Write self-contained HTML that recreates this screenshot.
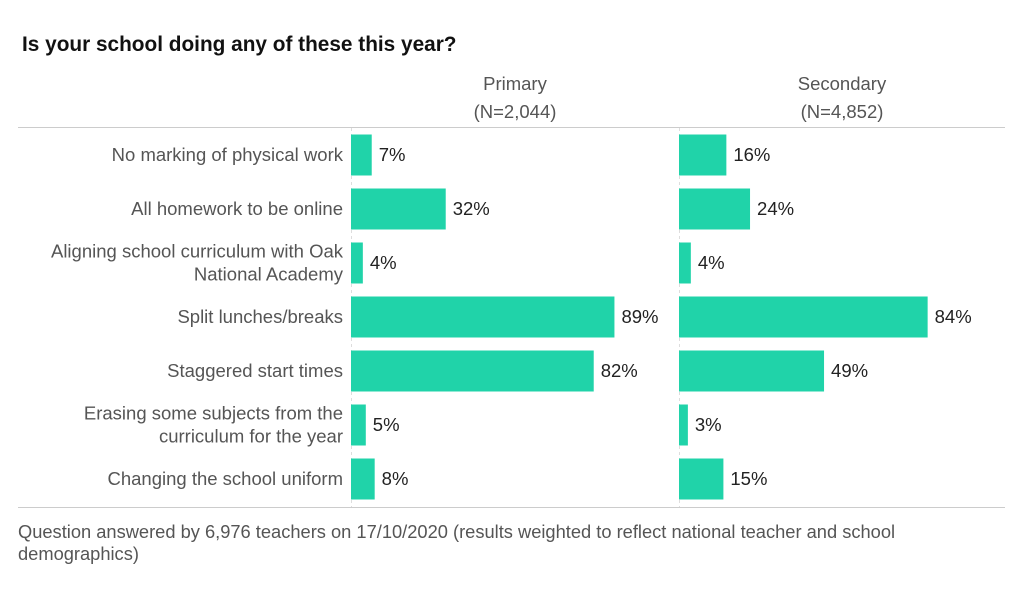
<!DOCTYPE html>
<html><head><meta charset="utf-8"><style>
body{margin:0;background:#fff;font-family:"Liberation Sans",sans-serif;}
svg text{font-family:"Liberation Sans",sans-serif;}
</style></head><body>
<svg id="chart" width="1024" height="585" xmlns="http://www.w3.org/2000/svg">
<text x="22" y="51" font-size="20.8" font-weight="bold" fill="#111">Is your school doing any of these this year?</text>
<text x="515" y="90" font-size="18.5" fill="#555" text-anchor="middle">Primary</text>
<text x="515" y="118" font-size="18.5" fill="#555" text-anchor="middle">(N=2,044)</text>
<text x="842" y="90" font-size="18.5" fill="#555" text-anchor="middle">Secondary</text>
<text x="842" y="118" font-size="18.5" fill="#555" text-anchor="middle">(N=4,852)</text>
<line x1="18" y1="127.5" x2="1005" y2="127.5" stroke="#ccc"/>
<line x1="18" y1="507.5" x2="1005" y2="507.5" stroke="#ccc"/>
<line x1="351.5" y1="128" x2="351.5" y2="507" stroke="#ddd" stroke-dasharray="3,3"/>
<line x1="679.5" y1="128" x2="679.5" y2="507" stroke="#ddd" stroke-dasharray="3,3"/>
<g id="bars"></g>
<text x="18" y="538" font-size="18.3" fill="#555">Question answered by 6,976 teachers on 17/10/2020 (results weighted to reflect national teacher and school</text>
<text x="18" y="560" font-size="18.3" fill="#555">demographics)</text>
</svg>
<script>
const categories=[["No marking of physical work"],["All homework to be online"],["Aligning school curriculum with Oak","National Academy"],["Split lunches/breaks"],["Staggered start times"],["Erasing some subjects from the","curriculum for the year"],["Changing the school uniform"]];
const primary=[7,32,4,89,82,5,8];
const secondary=[16,24,4,84,49,3,15];
const ns="http://www.w3.org/2000/svg";
const g=document.getElementById('bars');
const y=i=>155+i*54;
const xs=v=>v*2.96;
function mk(t,a){const e=document.createElementNS(ns,t);for(const k in a)e.setAttribute(k,a[k]);g.appendChild(e);return e;}
categories.forEach((c,i)=>{
  const cy=y(i);
  c.forEach((line,j)=>{
    const t=mk('text',{x:343,y:cy+6+(j-(c.length-1)/2)*23,'font-size':18.5,fill:'#555','text-anchor':'end'});
    
    
    t.textContent=line;
  });
  [[primary,351],[secondary,679]].forEach(([arr,x0],k)=>{
    const r=mk('rect',{x:x0,y:cy-20.5,width:xs(arr[i]),height:41,fill:'#20d3a9'});
    
    
    const t=mk('text',{x:x0+xs(arr[i])+7,y:cy+6,'font-size':18.5,fill:'#222'});
    
    
    t.textContent=arr[i]+'%';
  });
});
</script>
</body></html>
